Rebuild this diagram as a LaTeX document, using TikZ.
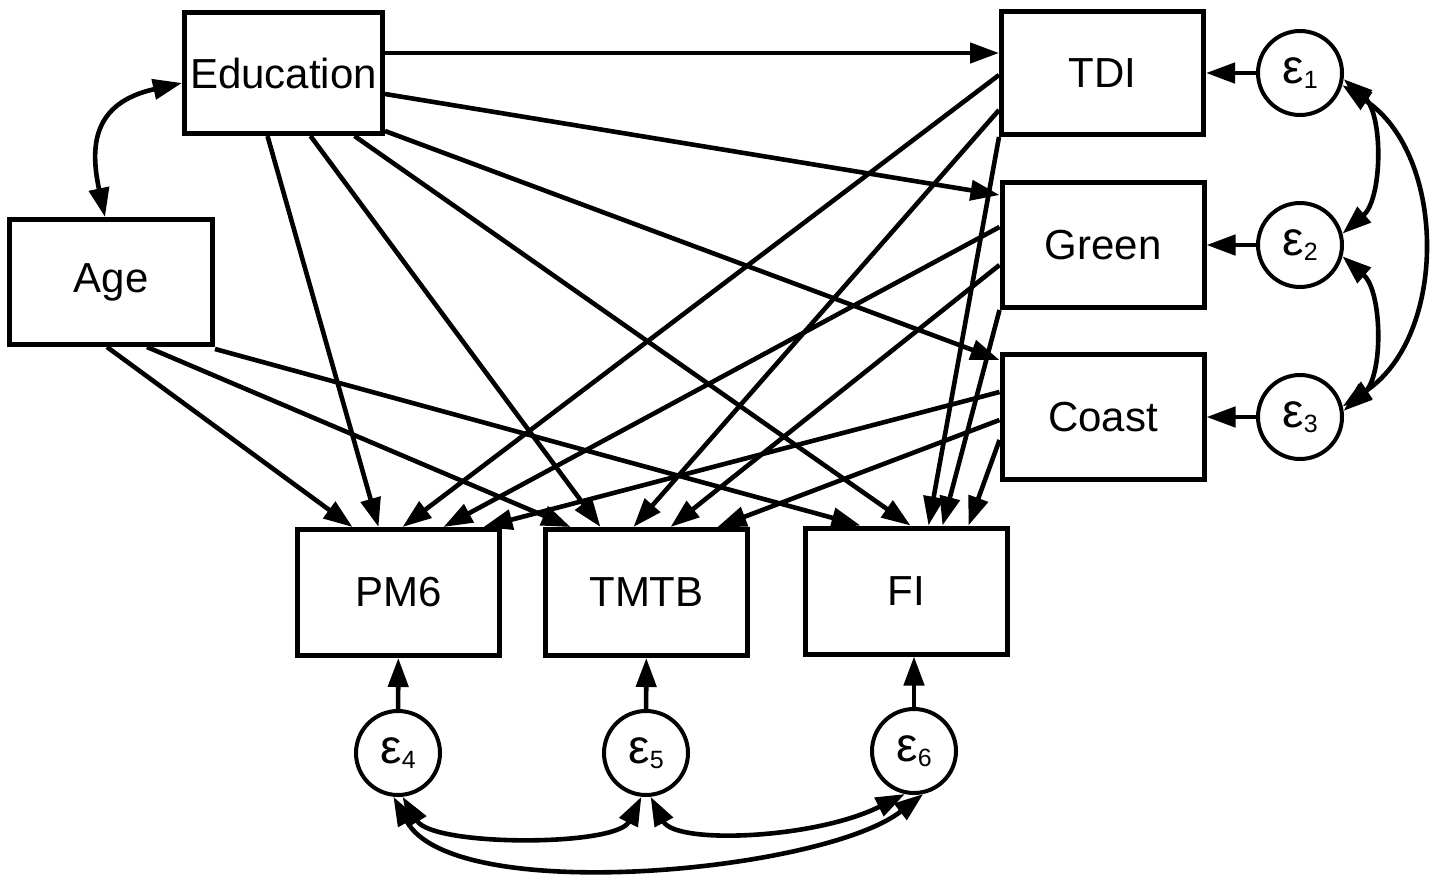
\documentclass[tikz,border=0pt]{standalone}
\usepackage{fontspec}
\setmainfont{Liberation Sans}
\usetikzlibrary{arrows.meta,calc}
\newcommand\errlab[1]{{\fontsize{48}{48}\selectfont ε}\raisebox{-5pt}{\fontsize{25}{25}\selectfont #1}}
\begin{document}
\begin{tikzpicture}[x=1pt,y=-1pt,
  box/.style={draw,line width=5pt,minimum width=202pt,minimum height=123pt,inner sep=0pt,font=\fontsize{42}{48}\selectfont},
  err/.style={draw,circle,line width=4pt,minimum size=84pt,inner sep=0pt},
  tip/.tip={Triangle[length=29pt,width=20pt]},
  conn/.style={line width=4.6pt,-tip},
  cov/.style={line width=4.6pt,tip-tip}]
\useasboundingbox (0,0) rectangle (1430,879);
% boxes
\node[box,minimum width=198pt,minimum height=121pt] (edu) at (283.5,73) {Education};
\node[box,minimum width=203pt,minimum height=125pt] (age) at (111,282) {Age};
\node[box] (tdi) at (1102.5,73) {TDI};
\node[box,minimum height=125pt] (gr) at (1103,245) {Green};
\node[box,minimum height=125pt] (co) at (1103,417) {Coast};
\node[box,minimum height=126pt] (pm) at (398.5,592.5) {PM6};
\node[box,minimum height=126pt] (tm) at (646.5,592.5) {TMTB};
\node[box,minimum height=126pt] (fi) at (906.5,591) {FI};
% error terms
\node[err] (e1) at (1300,73) {\errlab{1}};
\node[err] (e2) at (1300,245) {\errlab{2}};
\node[err] (e3) at (1300,417) {\errlab{3}};
\node[err] (e4) at (398,753) {\errlab{4}};
\node[err] (e5) at (646,753) {\errlab{5}};
\node[err] (e6) at (914,751) {\errlab{6}};
% Education paths
\draw[conn] ([yshift=20]edu.east) -- ([yshift=20]tdi.west);
\draw[conn] ([yshift=-21]edu.east) -- ([yshift=50]gr.west);
\draw[conn] ([yshift=5]edu.south east) -- ([yshift=57]co.west);
\draw[conn] ([xshift=-16]edu.south) -- ([xshift=-20]pm.north);
\draw[conn] ([xshift=27]edu.south) -- ([xshift=-46]tm.north);
\draw[conn] ([xshift=71]edu.south) -- ([xshift=4]fi.north);
% Age paths
\draw[conn] ([xshift=-4]age.south) -- ([xshift=-46]pm.north);
\draw[conn] ([xshift=36]age.south) -- ([xshift=-76]tm.north);
\draw[conn] ([yshift=-2]age.south east) -- ([xshift=-46]fi.north);
% TDI paths
\draw[conn] ([yshift=-2]tdi.west) -- ([xshift=4]pm.north);
\draw[conn] ([yshift=-37]tdi.west) -- ([xshift=-13]tm.north);
\draw[conn] (tdi.south west) -- ([xshift=22]fi.north);
% Green paths
\draw[conn] ([yshift=18]gr.west) -- ([xshift=45]pm.north);
\draw[conn] ([yshift=-20]gr.west) -- ([xshift=24]tm.north);
\draw[conn] (gr.south west) -- ([xshift=36]fi.north);
% Coast paths
\draw[conn] ([yshift=25]co.west) -- ([xshift=85]pm.north);
\draw[conn] ([yshift=-3]co.west) -- ([xshift=71]tm.north);
\draw[conn] ([yshift=-23]co.west) -- ([xshift=62]fi.north);
% errors to variables
\draw[conn] (e1) -- (tdi);
\draw[conn] (e2) -- (gr);
\draw[conn] (e3) -- (co);
\draw[conn] (e4) -- (pm);
\draw[conn] (e5) -- (tm);
\draw[conn] (e6.north) -- (e6.north |- fi.south);
% covariances
\draw[cov] ([yshift=-10]edu.west) .. controls +(-90,20) and +(-15,-70) .. ([xshift=-6]age.north);
\draw[cov] (e1.-8) .. controls +(40,35) and +(40,-35) .. (e2.15);
\draw[cov] (e1.-16) .. controls +(105,70) and +(105,-70) .. (e3.14);
\draw[cov] (e2.-15) .. controls +(40,35) and +(40,-35) .. (e3.8);
\draw[cov] (e4.-84) .. controls +(30,50) and +(-25,50) .. (e5.-96);
\draw[cov] (e5.-84) .. controls +(25,48) and +(-90,45) .. (e6.-102);
\draw[cov] (e4.-96) .. controls +(60,110) and +(-100,78) .. (e6.-78);
\end{tikzpicture}
\end{document}
